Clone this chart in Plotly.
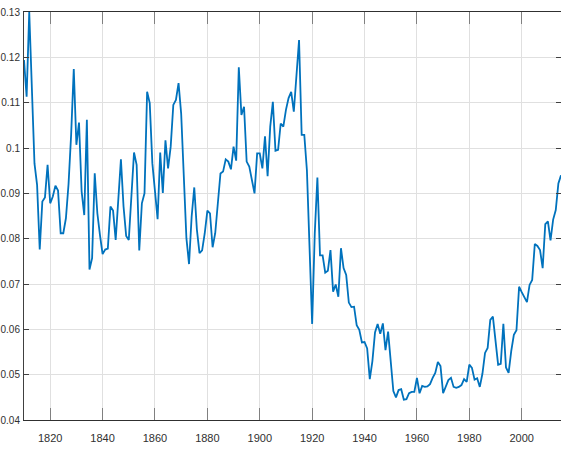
import plotly.graph_objects as go

years = list(range(1810, 2016))

vals_1810_1859 = [
    0.1194, 0.1113, 0.1300, 0.1130, 0.0966, 0.0918, 0.0776, 0.0882, 0.0891, 0.0963,
    0.0878, 0.0893, 0.0917, 0.0906, 0.0812, 0.0812, 0.0845, 0.0920, 0.1030, 0.1174,
    0.1007, 0.1056, 0.0904, 0.0852, 0.1062, 0.0732, 0.0757, 0.0944, 0.0856, 0.0808,
    0.0766, 0.0776, 0.0778, 0.0871, 0.0862, 0.0797, 0.0893, 0.0975, 0.0871, 0.0806,
    0.0797, 0.0893, 0.0990, 0.0963, 0.0774, 0.0878, 0.0900, 0.1124, 0.1099, 0.0966,
]
vals_1860_1909 = [
    0.0904, 0.0843, 0.0990, 0.0901, 0.1017, 0.0955, 0.1003, 0.1095, 0.1106, 0.1143,
    0.1076, 0.0940, 0.0801, 0.0744, 0.0849, 0.0913, 0.0820, 0.0768, 0.0774, 0.0812,
    0.0862, 0.0856, 0.0781, 0.0812, 0.0871, 0.0944, 0.0948, 0.0975, 0.0970, 0.0953,
    0.1003, 0.0972, 0.1178, 0.1073, 0.1091, 0.0970, 0.0959, 0.0929, 0.0900, 0.0988,
    0.0988, 0.0955, 0.1026, 0.0938, 0.1047, 0.1102, 0.0994, 0.0996, 0.1054, 0.1047,
]
vals_1910_1959 = [
    0.1084, 0.1110, 0.1124, 0.1080, 0.1161, 0.1238, 0.1029, 0.1029, 0.0951, 0.0782,
    0.0612, 0.0812, 0.0935, 0.0763, 0.0763, 0.0725, 0.0729, 0.0775, 0.0683, 0.0699,
    0.0672, 0.0779, 0.0735, 0.0720, 0.0659, 0.0649, 0.0650, 0.0609, 0.0599, 0.0571,
    0.0572, 0.0558, 0.0490, 0.0530, 0.0593, 0.0612, 0.0590, 0.0613, 0.0554, 0.0595,
    0.0533, 0.0464, 0.0450, 0.0466, 0.0468, 0.0445, 0.0446, 0.0459, 0.0462, 0.0462,
]
vals_1960_2015 = [
    0.0493, 0.0459, 0.0475, 0.0473, 0.0474, 0.0479, 0.0493, 0.0504, 0.0528, 0.0519,
    0.0459, 0.0475, 0.0488, 0.0493, 0.0473, 0.0471, 0.0473, 0.0477, 0.0490, 0.0484,
    0.0522, 0.0515, 0.0489, 0.0492, 0.0473, 0.0502, 0.0548, 0.0559, 0.0621, 0.0628,
    0.0580, 0.0522, 0.0524, 0.0612, 0.0516, 0.0504, 0.0552, 0.0588, 0.0598, 0.0694,
    0.0682, 0.0669, 0.0660, 0.0698, 0.0709, 0.0788, 0.0784, 0.0775, 0.0735, 0.0832,
    0.0838, 0.0796, 0.0842, 0.0863, 0.0922, 0.0940,
]
values = vals_1810_1859 + vals_1860_1909 + vals_1910_1959 + vals_1960_2015

x_ticks = [1820, 1840, 1860, 1880, 1900, 1920, 1940, 1960, 1980, 2000]
x_ticktext = ["1820", "1840", "1860", "1880", "1900", "1920", "1940", "1960", "1980", "2000"]
y_ticks = [0.04, 0.05, 0.06, 0.07, 0.08, 0.09, 0.10, 0.11, 0.12, 0.13]
y_ticktext = ["0.04", "0.05", "0.06", "0.07", "0.08", "0.09", "0.1", "0.11", "0.12", "0.13"]

FONT = "Liberation Sans Narrow, Liberation Sans, Arial, sans-serif"

fig = go.Figure()
fig.add_trace(go.Scatter(
    x=years, y=values, mode="lines",
    line=dict(color="#0072BD", width=1.8),
    hoverinfo="skip", showlegend=False,
))

fig.update_layout(
    width=561, height=451,
    margin=dict(l=24, r=0, t=12, b=31, autoexpand=False),
    paper_bgcolor="white", plot_bgcolor="white",
    font=dict(family=FONT, size=11, color="#303030"),
    xaxis=dict(
        range=[1810, 2015], tickvals=x_ticks, ticktext=x_ticktext,
        showgrid=True, gridcolor="#e0e0e0", gridwidth=1,
        showline=True, linecolor="#303030", linewidth=1, mirror="ticks",
        ticks="inside", ticklen=12, tickcolor="#808080", tickwidth=1,
        ticklabelstandoff=8, zeroline=False, automargin=False,
        tickfont=dict(family=FONT, size=11, color="#303030"),
    ),
    yaxis=dict(
        range=[0.04, 0.13], tickvals=y_ticks, ticktext=y_ticktext,
        showgrid=True, gridcolor="#e0e0e0", gridwidth=1,
        showline=True, linecolor="#404040", linewidth=1, mirror="ticks",
        ticks="inside", ticklen=5, tickcolor="#404040", tickwidth=1,
        ticklabelstandoff=1, zeroline=False, automargin=False,
        tickfont=dict(family=FONT, size=10, color="#303030"),
    ),
)

fig.write_html(
    "out.html",
    config={"displayModeBar": False, "staticPlot": True},
    post_script="document.body.style.margin='0';document.body.style.padding='0';document.body.style.overflow='hidden';",
)
